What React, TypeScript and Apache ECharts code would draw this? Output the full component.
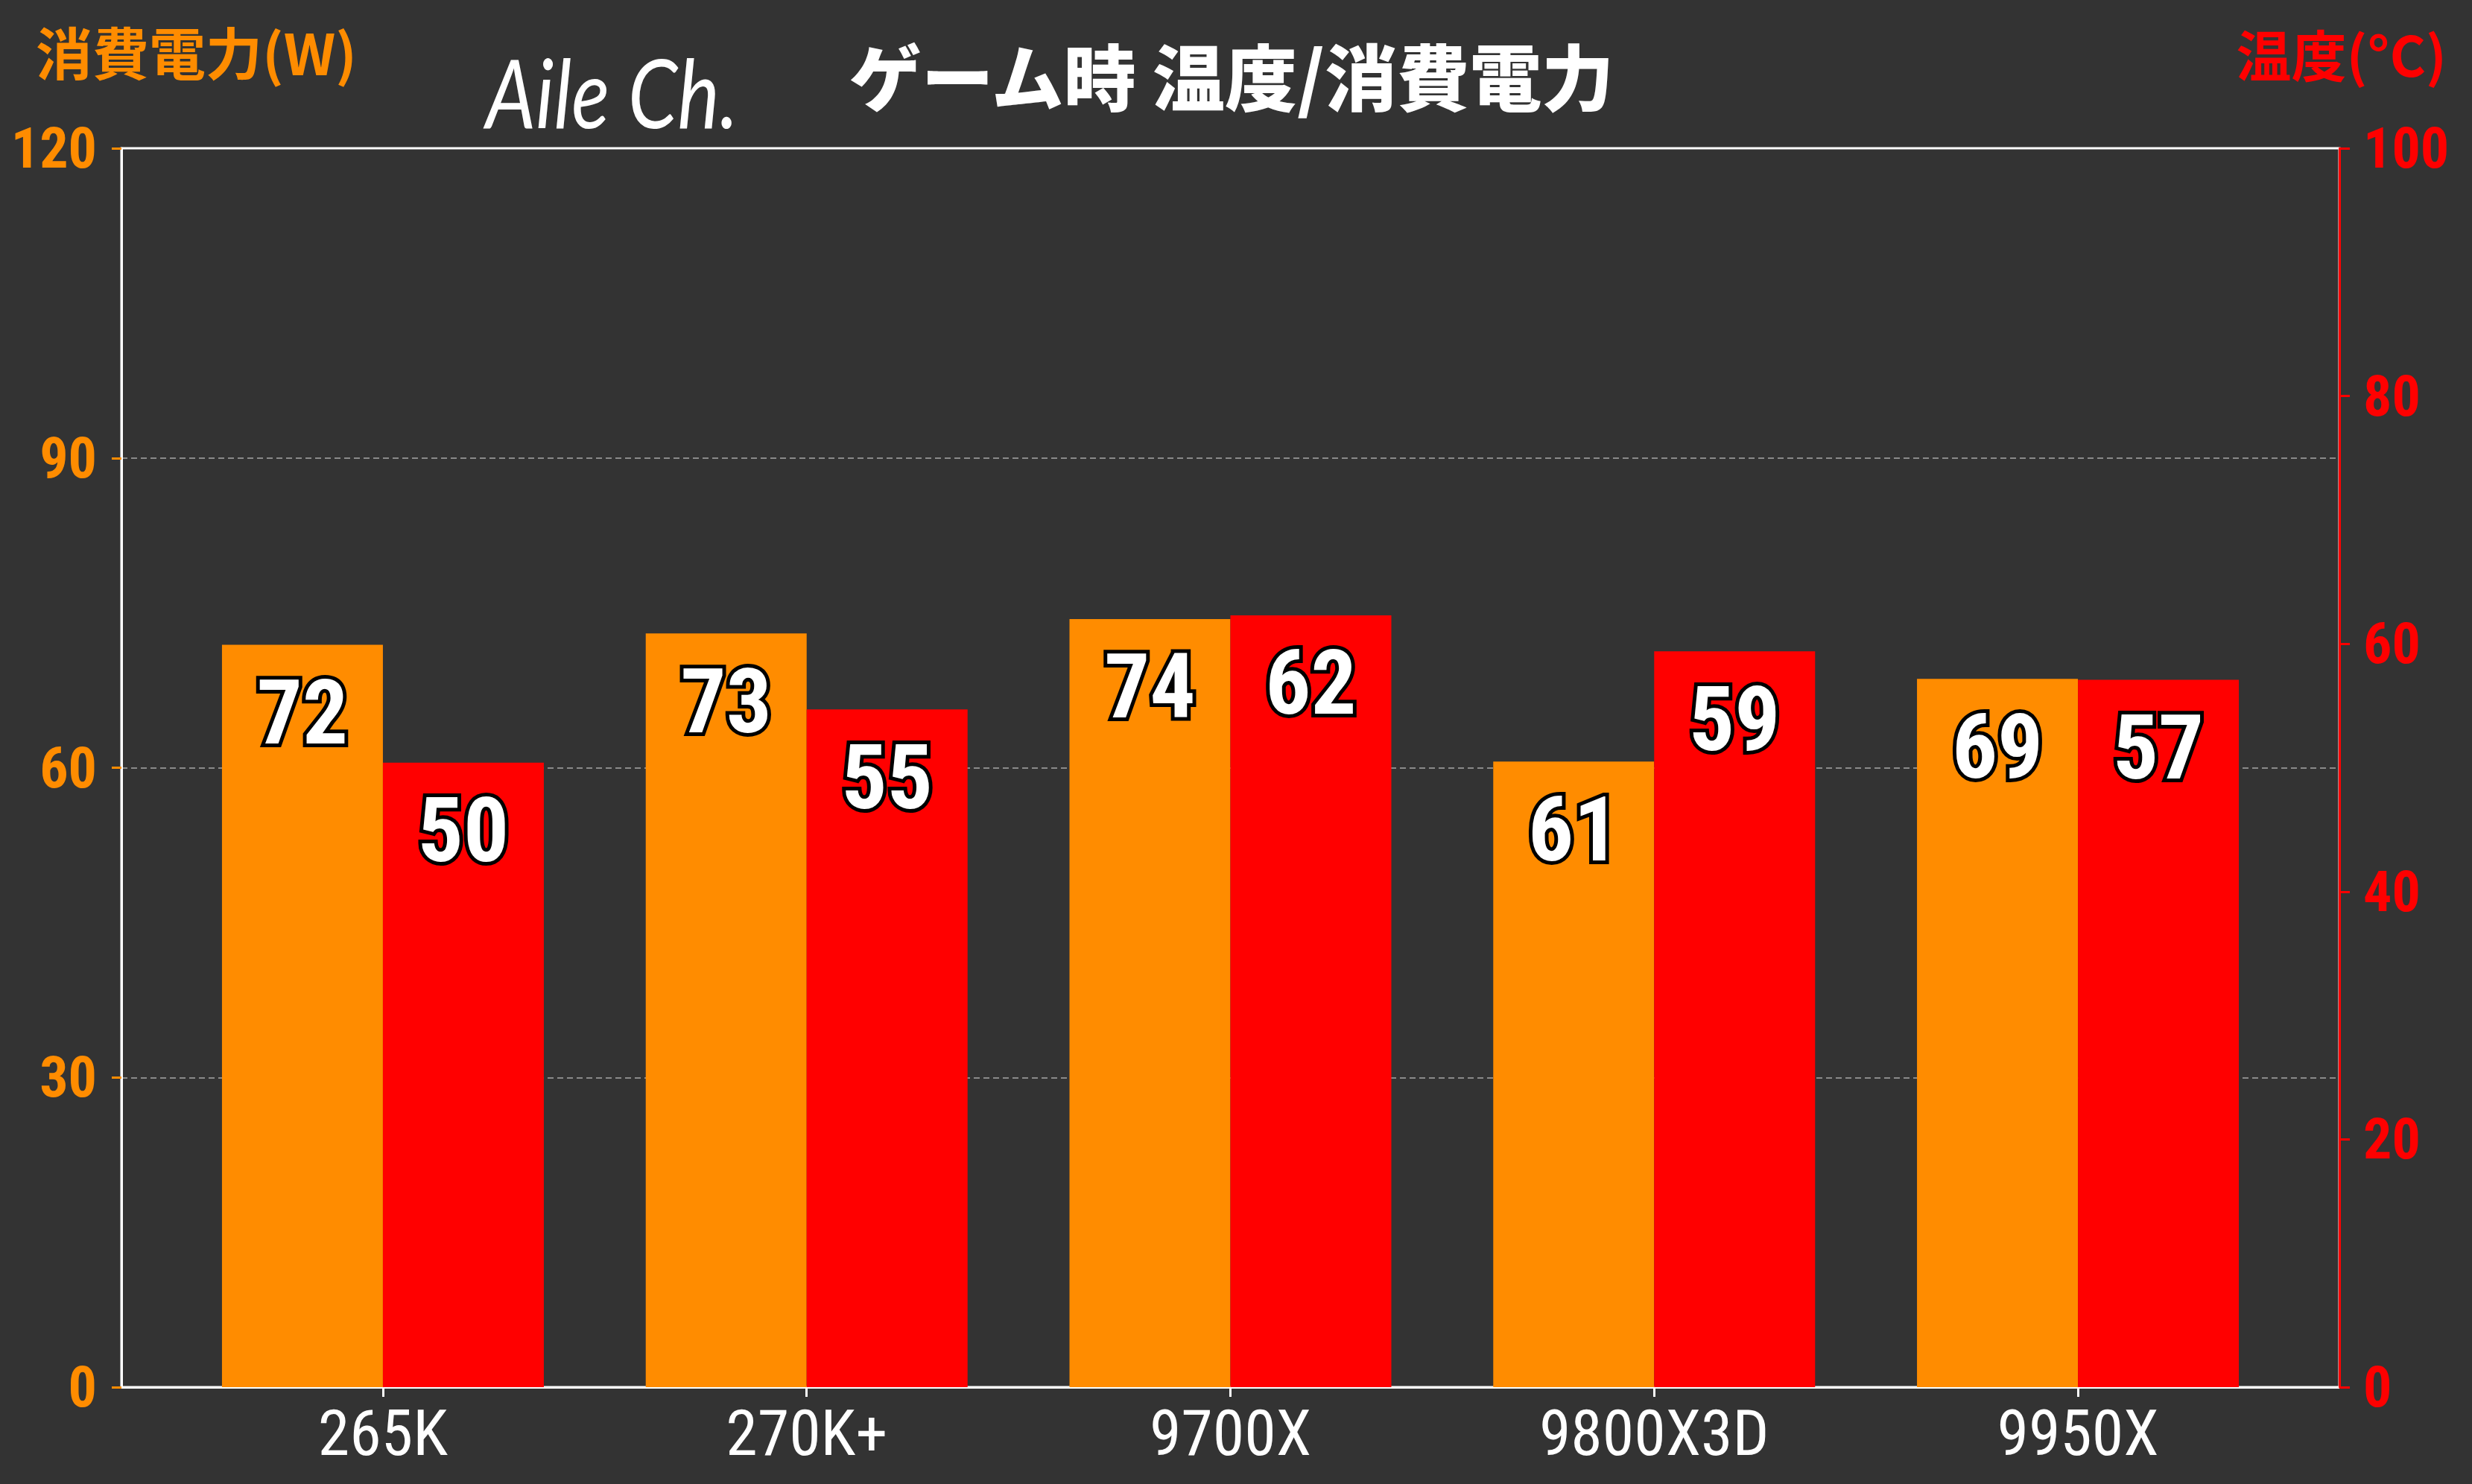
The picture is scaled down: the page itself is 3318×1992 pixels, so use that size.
import { useEffect, useRef } from "react";
import * as echarts from "echarts";

const BG = "#333333";
const POWER_COLOR = "#ff8c00";
const TEMP_COLOR = "#ff0000";
const NUM_FONT = "'Roboto Condensed', 'DejaVu Sans Condensed', sans-serif";
const JP_FONT = "'Noto Sans CJK JP', sans-serif";

const categories = ["265K", "270K+", "9700X", "9800X3D", "9950X"];
// 消費電力 (W) and 温度 (°C); labels show them rounded
const powerValues = [71.9, 73.0, 74.4, 60.6, 68.6];
const tempValues = [50.4, 54.7, 62.3, 59.4, 57.1];
const powerTicks = [0, 30, 60, 90, 120];
const tempTicks = [0, 20, 40, 60, 80, 100];

export default function App() {
  const chartRef = useRef<HTMLDivElement>(null);

  useEffect(() => {
    document.body.style.margin = "0";
    if (!chartRef.current) {
      return;
    }
    const chart = echarts.init(chartRef.current, null, { renderer: "svg" });

    const barLabel = {
      show: true,
      position: "insideTop" as const,
      distance: 31,
      formatter: (p: any) => String(Math.round(p.value[1])),
      color: "#ffffff",
      fontFamily: NUM_FONT,
      fontWeight: "bold" as const,
      fontSize: 121,
      textBorderColor: "#000000",
      textBorderWidth: 10,
    };

    const option: echarts.EChartsOption = {
      animation: false,
      backgroundColor: BG,
      grid: {
        left: 163,
        right: 178,
        top: 199,
        bottom: 130,
        show: true,
        borderColor: "#ffffff",
        borderWidth: 3,
        backgroundColor: "transparent",
        outerBoundsMode: "none",
      } as any,
      xAxis: {
        type: "value",
        min: -0.617,
        max: categories.length - 1 + 0.617,
        axisLine: {
          show: true,
          onZero: false,
          lineStyle: { color: "#ffffff", width: 3 },
        },
        axisTick: {
          show: true,
          length: 13,
          customValues: categories.map((_, i) => i),
          lineStyle: { color: "#ffffff", width: 3 },
        },
        axisLabel: {
          customValues: categories.map((_, i) => i),
          formatter: (v: number) => categories[Math.round(v)] ?? "",
          color: "#ffffff",
          fontFamily: NUM_FONT,
          fontSize: 86,
          margin: 18,
        },
        splitLine: { show: false },
      } as any,
      yAxis: [
        {
          type: "value",
          position: "left",
          min: powerTicks[0],
          max: powerTicks[powerTicks.length - 1],
          interval: powerTicks[1] - powerTicks[0],
          axisLine: {
            show: true,
            onZero: false,
            lineStyle: { color: "#ffffff", width: 3 },
          },
          axisTick: {
            show: true,
            length: 13,
            lineStyle: { color: POWER_COLOR, width: 3 },
          },
          axisLabel: {
            color: POWER_COLOR,
            fontFamily: NUM_FONT,
            fontWeight: "bold",
            fontSize: 76,
            margin: 33,
          },
          splitLine: {
            show: true,
            showMinLine: false,
            showMaxLine: false,
            lineStyle: { color: "#8a8a8a", width: 2, type: [8, 5] },
          },
        },
        {
          type: "value",
          position: "right",
          z: 5,
          min: tempTicks[0],
          max: tempTicks[tempTicks.length - 1],
          interval: tempTicks[1] - tempTicks[0],
          axisLine: {
            show: true,
            onZero: false,
            lineStyle: { color: TEMP_COLOR, width: 3 },
          },
          axisTick: {
            show: true,
            length: 14,
            lineStyle: { color: TEMP_COLOR, width: 3 },
          },
          axisLabel: {
            color: TEMP_COLOR,
            fontFamily: NUM_FONT,
            fontWeight: "bold",
            fontSize: 76,
            margin: 32,
          },
          splitLine: { show: false },
        },
      ] as any,
      series: [
        {
          name: "消費電力",
          type: "bar",
          yAxisIndex: 0,
          barWidth: 216,
          barGap: "0%",
          itemStyle: { color: POWER_COLOR },
          label: barLabel,
          data: powerValues.map((v, i) => [i, v]),
        },
        {
          name: "温度",
          type: "bar",
          yAxisIndex: 1,
          barWidth: 216,
          barGap: "0%",
          itemStyle: { color: TEMP_COLOR },
          label: barLabel,
          data: tempValues.map((v, i) => [i, v]),
        },
      ],
      graphic: [
        {
          type: "text",
          x: 1653,
          y: 98,
          style: {
            text: "ゲーム時 温度/消費電力",
            fill: "#ffffff",
            font: `900 97px ${JP_FONT}`,
            textAlign: "center",
            textVerticalAlign: "middle",
          },
        },
        {
          type: "text",
          x: 48,
          y: 68,
          style: {
            text: "消費電力(W)",
            fill: POWER_COLOR,
            font: `bold 76px ${JP_FONT}`,
            textAlign: "left",
            textVerticalAlign: "middle",
          },
        },
        {
          type: "text",
          x: 3284,
          y: 70,
          style: {
            text: "温度(°C)",
            fill: TEMP_COLOR,
            font: `bold 74px ${JP_FONT}`,
            textAlign: "right",
            textVerticalAlign: "middle",
          },
        },
        {
          type: "text",
          x: 652,
          y: 122,
          scaleX: 0.83,
          style: {
            text: "Aile Ch.",
            fill: "#ffffff",
            font: `italic 400 128px Lato, 'Open Sans', sans-serif`,
            textAlign: "left",
            textVerticalAlign: "middle",
          },
        },
      ],
    };

    chart.setOption(option);

    return () => {
      chart.dispose();
    };
  }, []);

  return <div ref={chartRef} style={{ width: 3318, height: 1992 }} />;
}
